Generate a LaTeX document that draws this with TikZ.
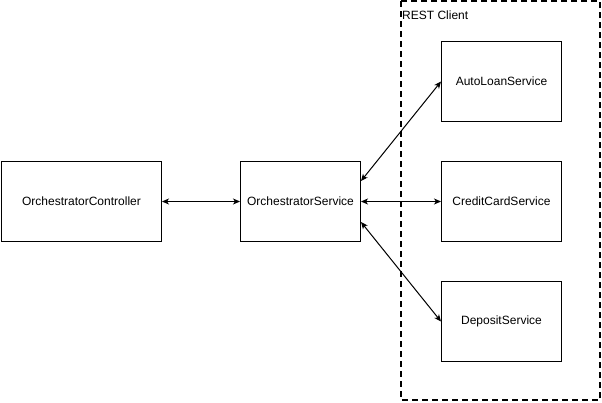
\documentclass[tikz,border=0pt]{standalone}
\usepackage{fontspec}
\setmainfont{Liberation Sans}
\usetikzlibrary{arrows.meta}
\begin{document}
\begin{tikzpicture}[x=1pt,y=-1pt,
  box/.style={draw=black,line width=1pt,minimum width=120pt,minimum height=80pt,inner sep=0pt,font=\fontsize{12}{14}\selectfont,anchor=north west},
  conn/.style={line width=1pt,{Stealth[length=7pt,width=6pt,inset=2pt]}-{Stealth[length=7pt,width=6pt,inset=2pt]}},
  restbox/.style={draw=black,line width=2pt,dash pattern=on 6pt off 4pt}]
\useasboundingbox (0,0) rectangle (602,402);
\draw[restbox] (401,1) rectangle (600,400);
\node[anchor=north west,inner sep=0pt,font=\fontsize{12}{14}\selectfont] (lbl) at (402,11) {REST Client};
\node[box,minimum width=160pt] (oc) at (1,161) {OrchestratorController};
\node[box] (os) at (240,161) {OrchestratorService};
\node[box] (al) at (441,41) {AutoLoanService};
\node[box] (cc) at (441,161) {CreditCardService};
\node[box] (ds) at (441,281) {DepositService};
\draw[conn] (oc.east) -- (os.west);
\draw[conn] (os.east) -- (cc.west);
\draw[conn] ([yshift=-20pt]os.north east) -- (al.west);
\draw[conn] ([yshift=20pt]os.south east) -- (ds.west);
\end{tikzpicture}
\end{document}
